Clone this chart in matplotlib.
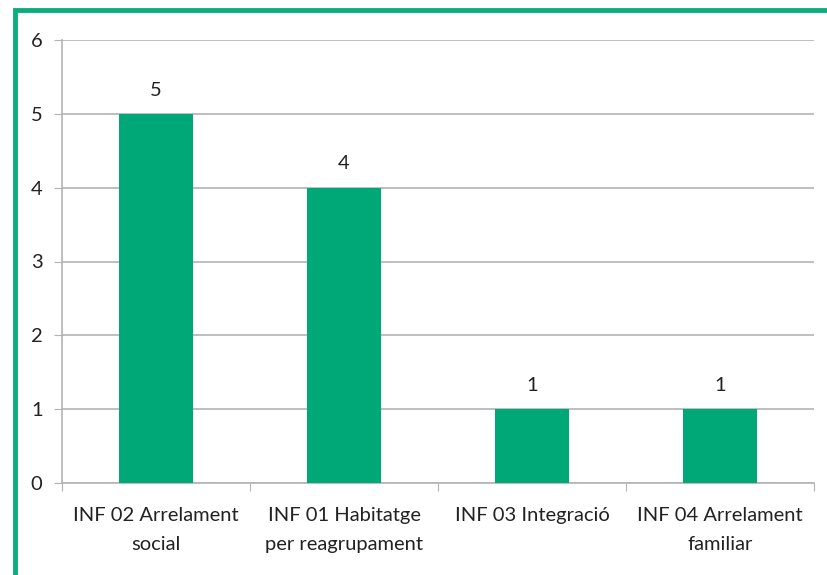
import matplotlib.pyplot as plt
import matplotlib.patches as patches
import numpy as np

# data
categories = ["INF 02 Arrelament\nsocial", "INF 01 Habitatge\nper reagrupament",
              "INF 03 Integració", "INF 04 Arrelament\nfamiliar"]
values = [5, 4, 1, 1]

green = "#00A878"
grid_c = "#B3B3B3"
txt_c = "#222222"
plt.rcParams['font.family'] = ['Lato', 'DejaVu Sans']

fig = plt.figure(figsize=(8.27, 5.75), dpi=100)
ax = fig.add_axes([62/827, 1 - 483/575, (814 - 62)/827, (483 - 40)/575])

x = np.arange(len(categories))
ax.bar(x, values, width=0.39, color=green, zorder=3)
for xi, v in zip(x, values):
    ax.annotate(str(v), (xi, v), xytext=(0, 11), textcoords="offset points",
                ha="center", va="bottom", fontsize=14.5, color=txt_c)

ax.set_ylim(0, 6)
ax.set_xlim(-0.5, len(categories) - 0.5)
ax.set_yticks(range(0, 7))
ax.yaxis.grid(True, color=grid_c, linewidth=1.2, zorder=0)
ax.tick_params(axis="y", length=6, color=grid_c, labelsize=14.5, labelcolor=txt_c, pad=8)

ax.set_xticks(np.arange(-0.5, len(categories)))
ax.set_xticklabels([])
ax.tick_params(axis="x", which="major", length=6, color=grid_c)
ax.set_xticks(x, minor=True)
ax.set_xticklabels(categories, minor=True, fontsize=14.5, color=txt_c, linespacing=1.85)
ax.tick_params(axis="x", which="minor", length=0, pad=17)

for s in ["top", "right"]:
    ax.spines[s].set_visible(False)
for s in ["left", "bottom"]:
    ax.spines[s].set_color(grid_c)
    ax.spines[s].set_linewidth(1.2)

# green frame around the chart (runs past right and bottom edges)
fig.patches.append(patches.Rectangle((15/827, -0.1), 1.2, 1.1 - 10/575,
                                     transform=fig.transFigure, fill=False,
                                     edgecolor="#0AAE7E", linewidth=3.5))

fig.savefig("out.png", dpi=100, facecolor="white")
